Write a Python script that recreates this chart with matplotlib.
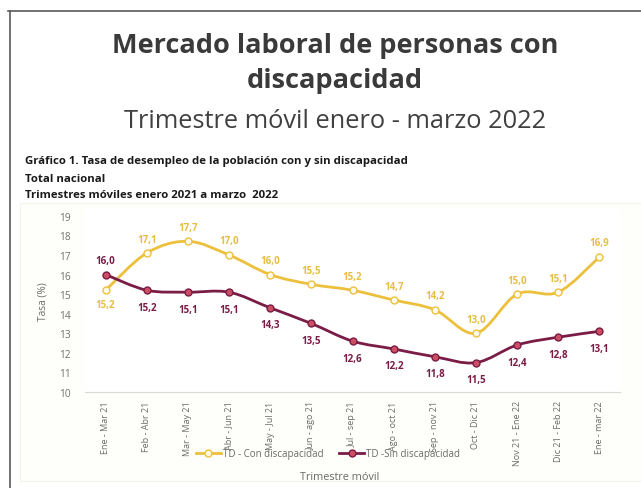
import numpy as np
import matplotlib
matplotlib.use("Agg")
import matplotlib.pyplot as plt
from matplotlib.path import Path
from matplotlib.patches import PathPatch, Rectangle
from matplotlib.lines import Line2D

plt.rcParams["font.family"] = ["Open Sans", "DejaVu Sans"]

# data
trimestres = ["Ene - Mar 21", "Feb - Abr 21", "Mar - May 21", "Abr - Jun 21",
              "May - Jul 21", "Jun - ago 21", "Jul - sep 21", "Ago - oct 21",
              "Sep - nov 21", "Oct - Dic 21", "Nov 21 - Ene 22",
              "Dic 21 - Feb 22", "Ene - mar 22"]
con_disc = [15.2, 17.1, 17.7, 17.0, 16.0, 15.5, 15.2, 14.7, 14.2, 13.0, 15.0, 15.1, 16.9]
sin_disc = [16.0, 15.2, 15.1, 15.1, 14.3, 13.5, 12.6, 12.2, 11.8, 11.5, 12.4, 12.8, 13.1]
y_ticks = list(range(10, 20))

YELLOW = "#EDC03C"
MAROON = "#7A1C46"
W, H = 641, 489


def px(x, y):
    return x / W, 1 - y / H


def smooth_path(xs, ys):
    # excel-like smoothed line: bezier segments through the data points
    pts = np.column_stack([xs, ys]).astype(float)
    n = len(pts)
    verts = [pts[0]]
    codes = [Path.MOVETO]
    for i in range(n - 1):
        p0 = pts[i - 1] if i > 0 else pts[i]
        p1 = pts[i]
        p2 = pts[i + 1]
        p3 = pts[i + 2] if i + 2 < n else pts[i + 1]
        c1 = p1 + (p2 - p0) / 6
        c2 = p2 - (p3 - p1) / 6
        verts += [c1, c2, p2]
        codes += [Path.CURVE4] * 3
    return Path(verts, codes)


fig = plt.figure(figsize=(W / 100, H / 100), dpi=100)

# frame and chart background
fig.add_artist(Line2D([8 / W, 1], [1 - 12 / H] * 2, color="#5a5a5a", lw=1.2))
fig.add_artist(Line2D([10 / W] * 2, [0, 1 - 12 / H], color="#5a5a5a", lw=1.2))
x0, y0 = px(20, 482)
fig.add_artist(Rectangle((x0, y0), 1 - x0, (482 - 204) / H, facecolor="#FEFEFA",
                         edgecolor="#F3F3EA", lw=0.8, zorder=0))

# titles
fig.text(*px(335, 46), "Mercado laboral de personas con", ha="center", va="center",
         fontsize=19.5, fontweight="bold", color="#3a3a3a")
fig.text(*px(335, 81), "discapacidad", ha="center", va="center",
         fontsize=19.5, fontweight="bold", color="#3a3a3a")
fig.text(*px(335, 121), "Trimestre móvil enero - marzo 2022", ha="center", va="center",
         fontsize=18.3, color="#404040")
fig.text(*px(25, 162), "Gráfico 1. Tasa de desempleo de la población con y sin discapacidad",
         ha="left", va="center", fontsize=8.2, fontweight="bold", color="#1a1a1a")
fig.text(*px(25, 179), "Total nacional", ha="left", va="center",
         fontsize=8.2, fontweight="bold", color="#1a1a1a")
fig.text(*px(25, 196), "Trimestres móviles enero 2021 a marzo  2022", ha="left", va="center",
         fontsize=8.2, fontweight="bold", color="#1a1a1a")

ax = fig.add_axes([85 / W, 1 - 393 / H, 535 / W, 183 / H])
ax.set_facecolor("white")
x = np.arange(len(trimestres))

ax.add_patch(PathPatch(smooth_path(x, con_disc), facecolor="none", edgecolor=YELLOW,
                       lw=2.0, zorder=3, capstyle="round"))
ax.add_patch(PathPatch(smooth_path(x, sin_disc), facecolor="none", edgecolor=MAROON,
                       lw=2.0, zorder=4, capstyle="round"))
ax.plot(x, con_disc, ls="none", marker="o", ms=5, mfc="#FFFCEE", mec=YELLOW, mew=1, zorder=5)
ax.plot(x, sin_disc, ls="none", marker="o", ms=5, mfc="#CC4E62", mec=MAROON, mew=1, zorder=6)

for i, v in enumerate(con_disc):
    off = -14 if i == 0 else 14
    ax.annotate(f"{v:.1f}".replace(".", ","), (x[i], v), xytext=(0, off),
                textcoords="offset pixels", ha="center", va="center",
                fontsize=7, fontweight="bold", color="#E6BE45")
for i, v in enumerate(sin_disc):
    off = 14 if i == 0 else -17
    ax.annotate(f"{v:.1f}".replace(".", ","), (x[i], v), xytext=(0, off),
                textcoords="offset pixels", ha="center", va="center",
                fontsize=7, fontweight="bold", color=MAROON)

ax.set_xlim(-0.5, 12.5)
ax.set_ylim(10, 19.35)
ax.set_yticks(y_ticks)
ax.set_xticks(x)
ax.set_xticklabels(trimestres, rotation=90, fontsize=6.5, color="#6a6a6a")
ax.tick_params(axis="y", labelsize=7.3, colors="#707070", length=0, pad=10)
ax.tick_params(axis="x", length=0, pad=6)
for s in ["top", "right", "left"]:
    ax.spines[s].set_visible(False)
ax.spines["bottom"].set_color("#D9D9D9")

ax.set_ylabel("Tasa (%)", fontsize=7.3, color="#6a6a6a", labelpad=8)
fig.text(*px(340, 478), "Trimestre móvil", ha="center", va="center",
         fontsize=7.8, color="#6a6a6a")

handles = [
    Line2D([], [], color=YELLOW, lw=2, marker="o", ms=5, mfc="#FFFCEE", mec=YELLOW),
    Line2D([], [], color=MAROON, lw=2, marker="o", ms=5, mfc="#CC4E62", mec=MAROON),
]
fig.legend(handles, ["TD - Con discapacidad", "TD -Sin discapacidad"],
           loc="center", bbox_to_anchor=px(328, 455), ncol=2, frameon=False,
           fontsize=7, labelcolor="#6a6a6a", handlelength=2.6, columnspacing=1.6,
           handletextpad=0.2)

fig.savefig("out.png", dpi=100)
